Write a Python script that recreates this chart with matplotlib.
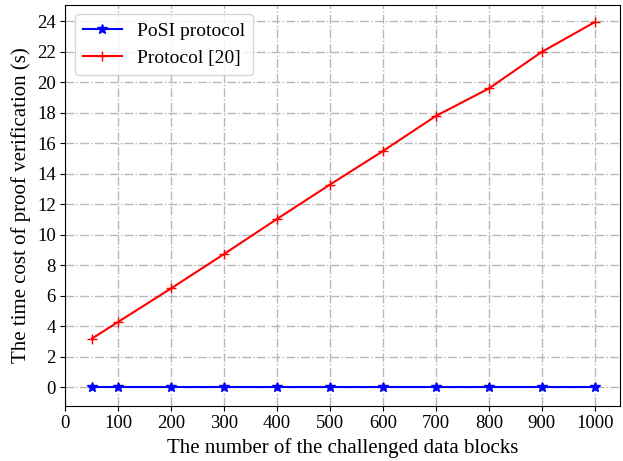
import numpy as np
import matplotlib
matplotlib.use("Agg")
import matplotlib.pyplot as plt

plt.rcParams['font.family'] = ['Liberation Serif', 'DejaVu Serif']

blocks = [50, 100, 200, 300, 400, 500, 600, 700, 800, 900, 1000]
posi_cost = [0.0, 0.0, 0.0, 0.0, 0.0, 0.0, 0.0, 0.0, 0.0, 0.0, 0.0]
ref_cost = [3.2, 4.3, 6.5, 8.75, 11.05, 13.3, 15.5, 17.8, 19.6, 22.0, 23.95]

x_ticks = [0, 100, 200, 300, 400, 500, 600, 700, 800, 900, 1000]
y_ticks = list(range(0, 25, 2))

fig, ax = plt.subplots(figsize=(6.23, 4.61), dpi=100)
ax.plot(blocks, posi_cost, color='blue', marker='*', markersize=7, lw=1.5, label='PoSI protocol')
ax.plot(blocks, ref_cost, color='red', marker='+', markersize=7, lw=1.5, label='Protocol [20]')

ax.set_xticks(x_ticks)
ax.set_yticks(y_ticks)
ax.set_xlim(0, 1047.5)
ax.set_ylim(-1.2, 25.1)
ax.tick_params(labelsize=13.5)
ax.grid(True, linestyle='-.', color='#b8b8b8', lw=1)
ax.set_xlabel('The number of the challenged data blocks', fontsize=15)
ax.set_ylabel('The time cost of proof verification (s)', fontsize=15)
ax.legend(loc='upper left', fontsize=14)

fig.subplots_adjust(left=0.105, right=0.995, top=0.99, bottom=0.12)
fig.savefig('out.png', dpi=100)
